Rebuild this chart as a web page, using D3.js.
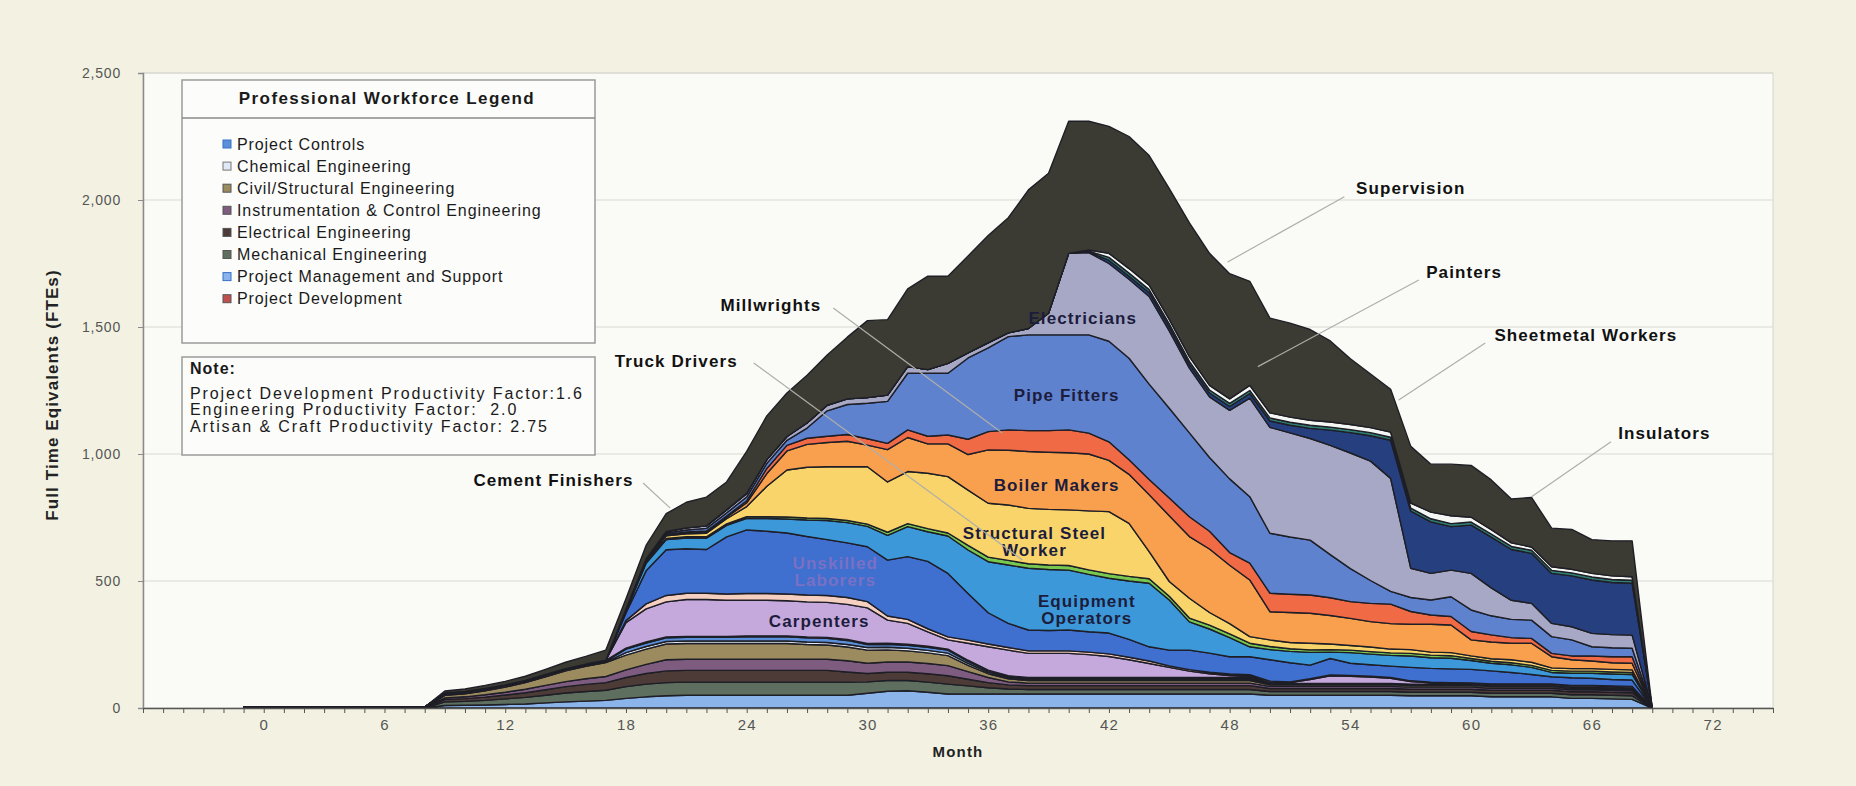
<!DOCTYPE html>
<html>
<head>
<meta charset="utf-8">
<script src="https://cdn.jsdelivr.net/npm/d3@7/dist/d3.min.js"></script>
<style>
  body { margin: 0; background: #f3f2e2; }
  svg { display: block; font-family: "Liberation Sans", Arial, sans-serif; }
</style>
</head>
<body>
<svg id="chart" width="1856" height="786"></svg>
<script>
// months of the schedule (x values)
const months = [-1, 8, 9, 10, 11, 12, 13, 14, 15, 16,
  17, 18, 19, 20, 21, 22, 23, 24, 25, 26,
  27, 28, 29, 30, 31, 32, 33, 34, 35, 36,
  37, 38, 39, 40, 41, 42, 43, 44, 45, 46,
  47, 48, 49, 50, 51, 52, 53, 54, 55, 56,
  57, 58, 59, 60, 61, 62, 63, 64, 65, 66,
  67, 68, 69];

// FTEs per layer, stacked bottom to top
const projectMgmt = [0, 0, 10, 11, 12, 14, 16, 20, 24, 27,
  30, 38, 44, 48, 50, 50, 50, 50, 50, 50,
  50, 50, 50, 58, 66, 68, 62, 55, 55, 55,
  55, 55, 55, 55, 55, 55, 55, 55, 55, 55,
  55, 55, 55, 50, 50, 50, 50, 50, 50, 50,
  48, 48, 48, 48, 44, 44, 44, 44, 38, 38,
  36, 34, 0];
const mechanical = [0, 0, 14, 15, 18, 22, 26, 30, 35, 38,
  40, 46, 50, 52, 52, 52, 52, 52, 52, 52,
  52, 52, 52, 45, 42, 40, 40, 39, 32, 25,
  20, 18, 18, 18, 18, 18, 18, 18, 18, 18,
  18, 18, 18, 15, 15, 15, 15, 15, 15, 15,
  14, 14, 14, 14, 14, 14, 14, 14, 14, 14,
  14, 14, 0];
const electrical = [0, 0, 10, 11, 13, 15, 18, 22, 25, 28,
  30, 36, 42, 46, 46, 46, 46, 46, 46, 46,
  46, 46, 40, 33, 33, 33, 33, 33, 26, 20,
  16, 15, 15, 15, 15, 15, 15, 15, 15, 15,
  15, 15, 15, 12, 12, 12, 12, 12, 12, 12,
  12, 12, 12, 12, 12, 12, 12, 12, 12, 12,
  12, 12, 0];
const instrumentation = [0, 0, 6, 7, 9, 11, 14, 17, 20, 22,
  24, 30, 36, 44, 44, 44, 44, 44, 44, 44,
  44, 44, 44, 40, 40, 40, 40, 40, 30, 20,
  12, 10, 10, 10, 10, 10, 10, 10, 10, 10,
  10, 10, 10, 8, 8, 8, 8, 8, 8, 8,
  8, 8, 8, 8, 8, 8, 8, 8, 8, 8,
  8, 8, 0];
const civil = [0, 0, 10, 12, 16, 20, 26, 34, 42, 49,
  55, 58, 60, 62, 62, 62, 62, 62, 62, 62,
  58, 56, 54, 52, 48, 44, 42, 39, 25, 15,
  12, 10, 10, 10, 10, 10, 10, 10, 10, 10,
  10, 10, 10, 6, 6, 6, 6, 6, 6, 6,
  6, 6, 6, 6, 6, 6, 6, 6, 6, 6,
  6, 6, 0];
const chemical = [0, 0, 2, 2, 2, 2, 2, 2, 2, 2,
  2, 10, 10, 10, 10, 10, 10, 10, 10, 10,
  10, 10, 10, 10, 10, 10, 10, 10, 8, 6,
  5, 5, 5, 5, 5, 5, 5, 5, 5, 5,
  5, 5, 5, 3, 3, 3, 3, 3, 3, 3,
  3, 3, 3, 3, 3, 3, 3, 3, 3, 3,
  3, 3, 0];
const projectControls = [0, 0, 3, 3, 3, 3, 3, 3, 3, 3,
  3, 14, 14, 14, 14, 14, 14, 16, 16, 16,
  16, 16, 16, 12, 12, 12, 12, 12, 8, 6,
  5, 5, 5, 5, 5, 5, 5, 5, 5, 5,
  5, 5, 5, 3, 3, 3, 3, 3, 3, 3,
  3, 3, 3, 3, 3, 3, 3, 3, 3, 3,
  3, 3, 0];
const projectDev = [4, 4, 4, 4, 4, 4, 4, 4, 4, 4,
  4, 4, 4, 4, 4, 4, 4, 4, 4, 4,
  4, 4, 4, 4, 4, 4, 4, 4, 4, 2,
  2, 2, 2, 2, 2, 2, 2, 2, 2, 2,
  2, 2, 2, 0, 0, 0, 0, 0, 0, 0,
  0, 0, 0, 0, 0, 0, 0, 0, 0, 0,
  0, 0, 0];
const carpenters = [0, 0, 0, 0, 0, 0, 0, 0, 0, 0,
  0, 100, 130, 138, 145, 145, 142, 140, 140, 138,
  138, 138, 138, 140, 91, 82, 57, 36, 67, 92,
  101, 95, 95, 95, 90, 83, 70, 55, 40, 25,
  15, 8, 5, 3, 3, 15, 30, 28, 25, 20,
  10, 5, 3, 2, 2, 2, 2, 2, 2, 2,
  2, 2, 0];
const cementFinishers = [0, 0, 0, 0, 0, 0, 0, 0, 0, 0,
  0, 8, 20, 25, 25, 25, 25, 27, 27, 27,
  27, 27, 27, 25, 16, 16, 12, 12, 12, 11,
  10, 10, 10, 10, 10, 10, 10, 10, 6, 6,
  6, 6, 6, 6, 3, 3, 3, 3, 3, 3,
  3, 3, 3, 3, 3, 3, 3, 3, 3, 3,
  3, 3, 0];
const unskilled = [0, 0, 0, 0, 0, 0, 0, 0, 0, 0,
  0, 30, 130, 180, 175, 172, 225, 250, 245, 240,
  230, 220, 215, 216, 220, 247, 265, 250, 184, 123,
  95, 82, 80, 82, 80, 82, 70, 56, 62, 77,
  75, 68, 71, 84, 75, 54, 65, 48, 45, 45,
  53, 54, 54, 53, 51, 45, 37, 28, 30, 28,
  25, 25, 0];
const equipment = [0, 0, 0, 0, 0, 0, 0, 0, 0, 0,
  0, 8, 30, 40, 42, 45, 45, 46, 50, 55,
  65, 75, 80, 80, 98, 118, 117, 147, 171, 201,
  230, 243, 240, 236, 226, 216, 230, 250, 197, 111,
  95, 75, 39, 40, 45, 50, 25, 42, 42, 42,
  45, 42, 42, 35, 30, 30, 28, 17, 18, 20,
  22, 22, 0];
const truckDrivers = [0, 0, 0, 0, 0, 0, 0, 0, 0, 0,
  0, 2, 4, 5, 5, 5, 6, 6, 7, 8,
  8, 8, 8, 9, 12, 12, 12, 12, 18, 18,
  18, 18, 18, 18, 18, 18, 18, 18, 15, 15,
  15, 15, 14, 12, 10, 10, 10, 10, 10, 10,
  10, 10, 10, 8, 8, 8, 8, 8, 8, 8,
  8, 8, 0];
const structuralSteel = [0, 0, 0, 0, 0, 0, 0, 0, 0, 0,
  0, 2, 5, 10, 12, 14, 20, 40, 120, 185,
  200, 204, 212, 226, 198, 205, 218, 222, 218, 212,
  218, 218, 219, 219, 232, 244, 209, 107, 58, 78,
  50, 40, 26, 26, 25, 26, 22, 18, 18, 15,
  15, 12, 12, 10, 10, 12, 12, 10, 10, 10,
  10, 10, 0];
const boilerMakers = [0, 0, 0, 0, 0, 0, 0, 0, 0, 0,
  0, 0, 0, 3, 4, 5, 6, 15, 50, 75,
  90, 95, 100, 85, 127, 134, 116, 129, 140, 210,
  216, 224, 225, 225, 224, 202, 193, 224, 259, 243,
  250, 230, 223, 111, 118, 118, 112, 107, 100, 100,
  100, 110, 109, 63, 66, 65, 75, 44, 35, 30,
  26, 26, 0];
const millwrights = [0, 0, 0, 0, 0, 0, 0, 0, 0, 0,
  0, 0, 0, 2, 3, 4, 5, 8, 20, 22,
  24, 25, 27, 25, 25, 30, 30, 35, 60, 72,
  80, 82, 85, 90, 82, 73, 57, 60, 70, 78,
  70, 50, 66, 73, 72, 72, 70, 66, 72, 77,
  50, 36, 33, 33, 28, 22, 19, 13, 15, 20,
  24, 26, 0];
const pipeFitters = [0, 0, 0, 0, 0, 0, 0, 0, 0, 0,
  0, 2, 4, 6, 8, 10, 12, 15, 20, 20,
  40, 100, 118, 140, 165, 223, 248, 243, 320, 330,
  367, 377, 377, 374, 387, 396, 400, 375, 353, 330,
  290, 290, 262, 236, 225, 216, 170, 130, 90, 50,
  55, 59, 78, 85, 75, 72, 72, 66, 63, 36,
  35, 33, 0];
const electricians = [0, 0, 0, 0, 0, 0, 0, 0, 0, 0,
  0, 2, 4, 6, 8, 10, 12, 14, 15, 15,
  20, 22, 22, 22, 25, 26, 14, 39, 20, 20,
  15, 25, 85, 321, 324, 306, 311, 345, 305, 255,
  239, 270, 388, 417, 410, 400, 430, 455, 470, 445,
  115, 105, 105, 144, 110, 75, 66, 52, 52, 53,
  52, 52, 0];
const insulators = [0, 0, 0, 0, 0, 0, 0, 0, 0, 0,
  0, 0, 0, 0, 0, 0, 0, 0, 0, 0,
  0, 0, 0, 0, 0, 0, 0, 0, 0, 0,
  0, 0, 0, 0, 3, 12, 12, 15, 15, 15,
  15, 15, 18, 25, 30, 40, 60, 80, 100, 150,
  225, 203, 171, 190, 200, 200, 197, 197, 200, 210,
  205, 204, 0];
const sheetmetal = [0, 0, 0, 0, 0, 0, 0, 0, 0, 0,
  0, 0, 0, 0, 0, 0, 0, 0, 0, 0,
  0, 0, 0, 0, 0, 0, 0, 0, 0, 0,
  0, 0, 0, 0, 3, 12, 12, 12, 12, 12,
  12, 12, 12, 12, 12, 12, 12, 12, 12, 12,
  12, 12, 12, 12, 12, 12, 12, 12, 12, 12,
  12, 12, 0];
const painters = [0, 0, 0, 0, 0, 0, 0, 0, 0, 0,
  0, 0, 0, 0, 0, 0, 0, 0, 0, 0,
  0, 0, 0, 0, 0, 0, 0, 0, 0, 0,
  0, 0, 0, 0, 4, 16, 18, 18, 18, 18,
  18, 18, 20, 20, 20, 20, 20, 20, 20, 20,
  20, 26, 31, 19, 17, 14, 13, 14, 14, 14,
  14, 14, 0];
const supervision = [0, 0, 8, 10, 12, 14, 16, 20, 25, 30,
  40, 40, 53, 70, 101, 113, 110, 165, 172, 171,
  188, 198, 243, 303, 297, 306, 368, 343, 382, 422,
  453, 546, 551, 520, 507, 500, 520, 510, 515, 527,
  520, 493, 410, 373, 370, 357, 319, 259, 211, 169,
  223, 189, 203, 204, 196, 173, 195, 152, 157, 133,
  138, 141, 0];

const layers = [
  ["pms", projectMgmt], ["mech", mechanical], ["elec", electrical],
  ["ic", instrumentation], ["civil", civil], ["chem", chemical],
  ["pc", projectControls], ["pd", projectDev], ["carp", carpenters],
  ["cement", cementFinishers], ["unsk", unskilled], ["equip", equipment],
  ["truck", truckDrivers], ["steel", structuralSteel], ["boiler", boilerMakers],
  ["mill", millwrights], ["pipe", pipeFitters], ["elect", electricians],
  ["insul", insulators], ["sheet", sheetmetal], ["paint", painters],
  ["sup", supervision]
];

const colors = {
  pms: "#8ab4ea", mech: "#5e6e5f", elec: "#4d3b38", ic: "#7d5c80",
  civil: "#9d8b60", chem: "#dfe8f4", pc: "#5b8fd9", pd: "#c0504d",
  carp: "#c5a9dd", cement: "#f5cfc0", unsk: "#3f6fcf", equip: "#3c98d8",
  truck: "#78c850", steel: "#f8d46a", boiler: "#f9a04e", mill: "#f06a45",
  pipe: "#5f82cf", elect: "#a6a8c6", insul: "#263f7e", sheet: "#2f7d72",
  paint: "#f4f6f4", sup: "#3b3b34"
};

const legendItems = ["Project Controls", "Chemical Engineering", "Civil/Structural Engineering",
  "Instrumentation & Control Engineering", "Electrical Engineering", "Mechanical Engineering",
  "Project Management and Support", "Project Development"];
const legendKeys = ["pc", "chem", "civil", "ic", "elec", "mech", "pms", "pd"];

const noteLines = ["Project Development Productivity Factor:1.6",
  "Engineering Productivity Factor:  2.0",
  "Artisan & Craft Productivity Factor: 2.75"];

// craft labels placed in data space [text lines, month, FTE]
const craftLabels = [
  [["Electricians"], 40.7, 1535], [["Pipe Fitters"], 39.9, 1232],
  [["Boiler Makers"], 39.4, 878], [["Structural Steel", "Worker"], 38.3, 690],
  [["Equipment", "Operators"], 40.9, 422], [["Carpenters"], 27.6, 342]
];
// outside labels with leader lines [text, month, FTE, fromMonth, fromFTE, toMonth, toFTE]
const calloutLabels = [
  ["Cement Finishers", 14.4, 898, 18.85, 886, 20.2, 787],
  ["Truck Drivers", 20.5, 1366, 24.35, 1358, 37.7, 583],
  ["Millwrights", 25.2, 1587, 28.3, 1575, 36.7, 1083],
  ["Supervision", 57.0, 2047, 53.7, 2013, 47.9, 1756],
  ["Painters", 59.65, 1717, 57.4, 1685, 49.4, 1344],
  ["Sheetmetal Workers", 65.7, 1469, 60.7, 1437, 56.4, 1213],
  ["Insulators", 69.6, 1083, 66.95, 1048, 63.0, 832]
];

const svg = d3.select("#chart");
const plotLeft = 143, plotRight = 1773, plotTop = 73, plotBottom = 708;

const x = d3.scaleLinear().domain([-6, 75]).range([plotLeft, plotRight]);
const y = d3.scaleLinear().domain([0, 2500]).range([plotBottom, plotTop]);

svg.append("rect").attr("width", 1856).attr("height", 786).attr("fill", "#f3f2e2");
svg.append("rect")
  .attr("x", plotLeft).attr("y", plotTop)
  .attr("width", plotRight - plotLeft).attr("height", plotBottom - plotTop)
  .attr("fill", "#fafbf6").attr("stroke", "#d4d4cc");

// gridlines
svg.append("g")
  .selectAll("line")
  .data([500, 1000, 1500, 2000, 2500])
  .enter()
  .append("line")
  .attr("x1", plotLeft).attr("x2", plotRight)
  .attr("y1", (d) => y(d)).attr("y2", (d) => y(d))
  .attr("stroke", "#d9d9d2");

let table = months.map((m, i) => {
  let row = { month: m };
  layers.forEach(([k, vals]) => (row[k] = vals[i]));
  return row;
});

let stack = d3.stack().keys(layers.map((l) => l[0]));
let stacked = stack(table);

let area = d3
  .area()
  .x((d) => x(d.data.month))
  .y0((d) => y(d[0]))
  .y1((d) => y(d[1]));

svg.append("g")
  .selectAll("path")
  .data(stacked)
  .enter()
  .append("path")
  .attr("d", area)
  .attr("fill", (d) => colors[d.key])
  .attr("stroke", "#1e1e26")
  .attr("stroke-width", 1.4)
  .attr("stroke-linejoin", "round");

// axes
let yAxis = svg.append("g")
  .attr("transform", `translate(${plotLeft},0)`)
  .call(d3.axisLeft(y).tickValues([0, 500, 1000, 1500, 2000, 2500])
    .tickFormat(d3.format(",")).tickSize(5).tickPadding(17));
yAxis.select(".domain").attr("stroke", "#8a8a8a").attr("stroke-width", 1.5);
yAxis.selectAll("line").attr("stroke", "#8a8a8a");
yAxis.selectAll("text").attr("font-size", 14).attr("fill", "#555")
  .attr("letter-spacing", 0.8)
  .attr("font-family", "Liberation Sans, Arial");

let xMinor = svg.append("g")
  .attr("transform", `translate(0,${plotBottom})`)
  .call(d3.axisBottom(x).tickValues(d3.range(-6, 76)).tickFormat("").tickSize(5).tickSizeOuter(0));
xMinor.select(".domain").attr("stroke", "#555").attr("stroke-width", 1.5);
xMinor.selectAll("line").attr("stroke", "#555");

let xAxis = svg.append("g")
  .attr("transform", `translate(0,${plotBottom})`)
  .call(d3.axisBottom(x).tickValues(d3.range(0, 73, 6)).tickSize(0).tickPadding(11));
xAxis.select(".domain").remove();
xAxis.selectAll("text").attr("font-size", 15).attr("fill", "#555")
  .attr("letter-spacing", 1.2)
  .attr("font-family", "Liberation Sans, Arial");

svg.append("text")
  .attr("x", 958).attr("y", 757)
  .attr("text-anchor", "middle")
  .attr("font-size", 15).attr("font-weight", "bold").attr("fill", "#222")
  .attr("letter-spacing", 1.2)
  .text("Month");

svg.append("text")
  .attr("transform", "translate(58,395) rotate(-90)")
  .attr("text-anchor", "middle")
  .attr("font-size", 17).attr("font-weight", "bold").attr("fill", "#222")
  .attr("letter-spacing", 1.1)
  .text("Full Time Eqivalents (FTEs)");

// labels inside the areas
craftLabels.forEach(([lines, m, v]) => {
  let t = svg.append("text")
    .attr("text-anchor", "middle")
    .attr("font-size", 17).attr("font-weight", "bold").attr("fill", "#1c1c3c")
    .attr("letter-spacing", 1.1);
  lines.forEach((s, i) => {
    t.append("tspan").attr("x", x(m)).attr("y", y(v) + i * 17 + 6).text(s);
  });
});

let unsk = svg.append("text")
  .attr("text-anchor", "middle")
  .attr("font-size", 17).attr("font-weight", "bold").attr("fill", "#7a70c4")
  .attr("letter-spacing", 1.1);
["Unskilled", "Laborers"].forEach((s, i) => {
  unsk.append("tspan").attr("x", x(28.4)).attr("y", y(571) + i * 17 + 6).text(s);
});

// callouts
calloutLabels.forEach(([s, m, v, m1, v1, m2, v2]) => {
  svg.append("line")
    .attr("x1", x(m1)).attr("y1", y(v1))
    .attr("x2", x(m2)).attr("y2", y(v2))
    .attr("stroke", "#aeaeaa").attr("stroke-width", 1.2);
  svg.append("text")
    .attr("x", x(m)).attr("y", y(v) + 6)
    .attr("text-anchor", "middle")
    .attr("font-size", 17).attr("font-weight", "bold").attr("fill", "#111")
    .attr("letter-spacing", 1.1)
    .text(s);
});

// legend box
let lg = svg.append("g");
lg.append("rect")
  .attr("x", 182).attr("y", 80).attr("width", 413).attr("height", 263)
  .attr("fill", "#fcfcfa").attr("stroke", "#9a9a9a").attr("stroke-width", 1.5);
lg.append("line")
  .attr("x1", 182).attr("x2", 595).attr("y1", 118).attr("y2", 118)
  .attr("stroke", "#8a8a8a").attr("stroke-width", 1.5);
lg.append("text")
  .attr("x", 387).attr("y", 104)
  .attr("text-anchor", "middle")
  .attr("font-size", 17).attr("font-weight", "bold").attr("fill", "#1a1a1a")
  .attr("letter-spacing", 1.4)
  .text("Professional Workforce Legend");

let item = lg
  .selectAll(".item")
  .data(legendItems)
  .enter()
  .append("g")
  .attr("class", "item")
  .attr("transform", (d, i) => "translate(0," + (144 + i * 22.1) + ")");
item.append("rect")
  .attr("x", 223).attr("y", -4).attr("width", 8).attr("height", 8)
  .attr("fill", (d, i) => colors[legendKeys[i]])
  .attr("stroke", (d, i) => (i === 0 || i === 6 ? "#3b6fc8" : i === 1 ? "#777" : "#555"))
  .attr("stroke-width", 1);
item.append("text")
  .attr("x", 237).attr("y", 5.5)
  .attr("font-size", 16).attr("fill", "#1a1a1a")
  .attr("letter-spacing", 0.9)
  .text((d) => d);

// note box
let nb = svg.append("g");
nb.append("rect")
  .attr("x", 182).attr("y", 357).attr("width", 413).attr("height", 98)
  .attr("fill", "#fcfcfa").attr("stroke", "#9a9a9a").attr("stroke-width", 1.5);
nb.append("text")
  .attr("x", 190).attr("y", 374)
  .attr("font-size", 16).attr("font-weight", "bold").attr("fill", "#1a1a1a")
  .attr("letter-spacing", 1)
  .text("Note:");
noteLines.forEach((s, i) => {
  nb.append("text")
    .attr("x", 190).attr("y", 398.5 + i * 16.6)
    .attr("font-size", 16).attr("fill", "#1a1a1a")
    .attr("letter-spacing", 1.9)
    .attr("xml:space", "preserve")
    .text(s);
});
</script>
</body>
</html>
